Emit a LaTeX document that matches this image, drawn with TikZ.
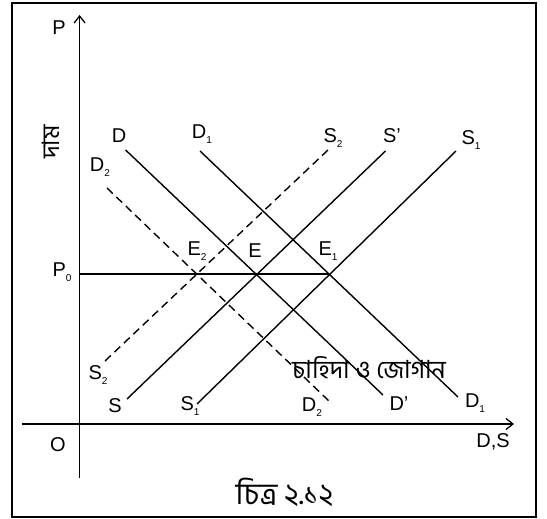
\documentclass[tikz,border=0pt]{standalone}
\usepackage{fontspec}
\setmainfont{Liberation Sans}
\newfontfamily\bengfont[Script=Bengali]{Hind Siliguri}
\usetikzlibrary{arrows.meta}
\newcommand{\lowsub}[1]{\raisebox{-0.45ex}{\fontsize{10}{10}\selectfont #1}}

\begin{document}
\begin{tikzpicture}[x=1pt, y=-1pt,
  font=\fontsize{20}{23}\selectfont, >={Straight Barb[length=7pt,width=11pt]},
  axis/.style={->, line width=1.3pt},
  curve/.style={line width=1.4pt},
  shifted/.style={curve, dash pattern=on 8pt off 5pt},
  lab/.style={inner sep=0pt},
  bn/.style={inner sep=0pt, font=\bengfont\fontsize{#1}{#1}\selectfont},
  bn/.default=25,
]
\useasboundingbox (0,0) rectangle (547,519);
\draw[line width=2pt] (11.5,3) rectangle (536,517);
% axes
\coordinate (ytop) at (79.6,15);
\coordinate (ybot) at (79.6,478);
\coordinate (xleft) at (21.5,424);
\coordinate (xright) at (514,424);
\coordinate (P0) at (79.6,274);
\draw[axis] (ybot) -- (ytop);
\draw[axis] (xleft) -- (xright);
\node[lab] (P) at (59,28) {P};
\node[lab] (O) at (58,445) {O};
\node[lab] (DS) at (493,442) {D,S};
\node[lab] (P0lab) at (62,272) {P\lowsub{0}};
\node[bn=24, rotate=90] (price) at (51,142) {দাম};
% demand and supply curves
\coordinate (D-a) at (125.6,150);  \coordinate (D-b) at (383,395);
\coordinate (D1-a) at (200,151);   \coordinate (D1-b) at (458,397);
\coordinate (D2-a) at (107,188);   \coordinate (D2-b) at (330,402);
\coordinate (S-a) at (127,399);    \coordinate (S-b) at (385.5,151);
\coordinate (S1-a) at (197,404);   \coordinate (S1-b) at (456,151);
\coordinate (S2-a) at (105,361);   \coordinate (S2-b) at (328,150);
\draw[curve] (D-a) -- (D-b);
\draw[curve] (D1-a) -- (D1-b);
\draw[shifted] (D2-a) -- (D2-b);
\draw[curve] (S-a) -- (S-b);
\draw[curve] (S1-a) -- (S1-b);
\draw[shifted] (S2-a) -- (S2-b);
\coordinate (E) at (256,274);
\coordinate (E1) at (329,274);
\draw[curve] (P0) -- (E1);
% labels
\node[lab] (lD) at (119,136) {D};
\node[lab] (lD1) at (202,134) {D\lowsub{1}};
\node[lab] (lS2) at (333,138) {S\lowsub{2}};
\node[lab] (lSp) at (392,136) {S'};
\node[lab] (lS1) at (471,140) {S\lowsub{1}};
\node[lab] (lD2) at (100,167) {D\lowsub{2}};
\node[lab] (lE2) at (197,251) {E\lowsub{2}};
\node[lab] (lE) at (255,251) {E};
\node[lab] (lE1) at (328,251) {E\lowsub{1}};
\node[lab] (lS2b) at (98,375) {S\lowsub{2}};
\node[lab] (lS) at (115,406) {S};
\node[lab] (lS1b) at (190,406) {S\lowsub{1}};
\node[lab] (lD2b) at (312,407) {D\lowsub{2}};
\node[lab] (lDp) at (399,404) {D'};
\node[lab] (lD1b) at (475,403) {D\lowsub{1}};
\node[bn] (title) at (369,368) {চাহিদা ও জোগান};
\node[bn=30] (caption) at (284.5,492) {চিত্র ২.১২};
\end{tikzpicture}
\end{document}
